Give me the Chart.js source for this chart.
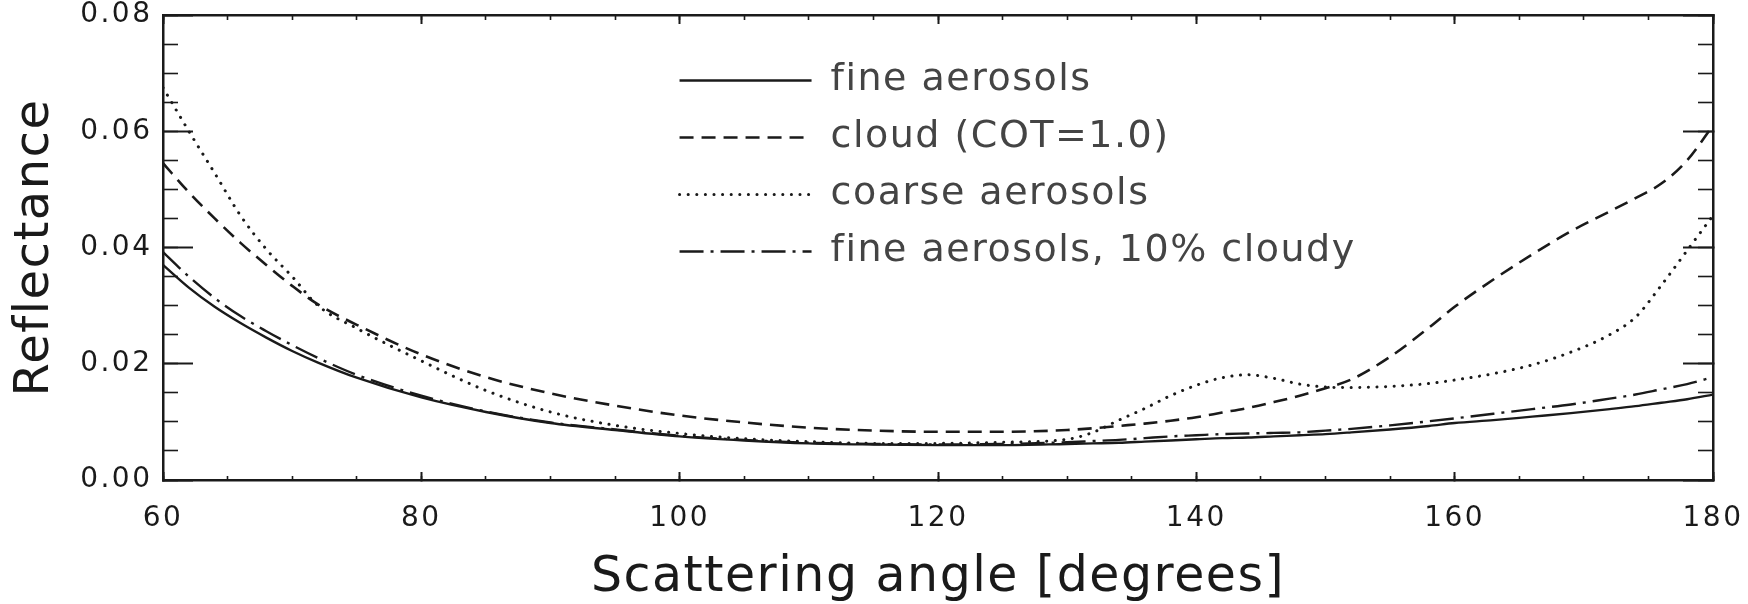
<!DOCTYPE html>
<html>
<head>
<meta charset="utf-8">
<script src="https://cdn.jsdelivr.net/npm/chart.js@4/dist/chart.umd.min.js"></script>
<style>
  html, body { margin: 0; padding: 0; background: #ffffff; }
  #wrap { width: 1748px; height: 604px; }
</style>
</head>
<body>
<div id="wrap"><canvas id="c" width="1748" height="604"></canvas></div>
<script>
// ---------------- data ----------------
const angles = [60, 62, 64, 66, 68, 70, 72, 75, 80, 85, 90, 95, 100, 105, 110, 115, 120, 125, 130,
  132, 134, 136, 138, 140, 142, 144, 146, 148, 150, 152, 155, 158, 160, 163, 166, 169, 172, 174, 176, 178, 180];

const fineAerosols = [0.0370, 0.0331, 0.0298, 0.0270, 0.0245, 0.0222, 0.0202, 0.0176, 0.0142, 0.0117, 0.0098,
  0.0086, 0.0075, 0.0068, 0.0063, 0.0061, 0.0060, 0.0060, 0.0062,
  0.0063, 0.0064, 0.0066, 0.0068, 0.0070, 0.0072, 0.0073, 0.0075, 0.0077, 0.0079, 0.0082, 0.0087,
  0.0093, 0.0098, 0.0103, 0.0109, 0.0115, 0.0122, 0.0127, 0.0133, 0.0139, 0.0147];

const cloudCOT1 = [0.0545, 0.0495, 0.0450, 0.0408, 0.0370, 0.0334, 0.0302, 0.0267, 0.0216, 0.0177, 0.0149,
  0.0128, 0.0111, 0.0099, 0.0090, 0.0085, 0.0083, 0.0083, 0.0086,
  0.0089, 0.0093, 0.0097, 0.0102, 0.0108, 0.0116, 0.0124, 0.0134, 0.0145, 0.0158, 0.0173, 0.0212,
  0.0262, 0.0298, 0.0345, 0.0388, 0.0428, 0.0462, 0.0485, 0.0510, 0.0550, 0.0610];

const coarseAerosols = [0.0675, 0.0600, 0.0528, 0.0455, 0.0397, 0.0350, 0.0300, 0.0261, 0.0205, 0.0154, 0.0117,
  0.0094, 0.0080, 0.0071, 0.0066, 0.0063, 0.0063, 0.0065, 0.0070,
  0.0082, 0.0103, 0.0123, 0.0145, 0.0163, 0.0176, 0.0181, 0.0175, 0.0165, 0.0160, 0.0159, 0.0161,
  0.0166, 0.0172, 0.0183, 0.0198, 0.0220, 0.0250, 0.0280, 0.0335, 0.0395, 0.0455];

const fineCloudy = [0.0392, 0.0350, 0.0313, 0.0282, 0.0256, 0.0232, 0.0210, 0.0181, 0.0145, 0.0118, 0.0099,
  0.0087, 0.0076, 0.0069, 0.0064, 0.0062, 0.0061, 0.0062, 0.0065,
  0.0067, 0.0069, 0.0072, 0.0075, 0.0077, 0.0079, 0.0080, 0.0081, 0.0082, 0.0085, 0.0088, 0.0094,
  0.0101, 0.0106, 0.0114, 0.0122, 0.0130, 0.0140, 0.0147, 0.0156, 0.0165, 0.0177];

const seriesNames = ['fine aerosols', 'cloud (COT=1.0)', 'coarse aerosols', 'fine aerosols, 10% cloudy'];
const xTickLabels = ['60', '80', '100', '120', '140', '160', '180'];
const yTickLabels = ['0.00', '0.02', '0.04', '0.06', '0.08'];
const xTitle = 'Scattering angle [degrees]';
const yTitle = 'Reflectance';

// ---------------- chart ----------------
const INK = '#1a1a1a';
Chart.defaults.font.family = 'DejaVu Sans';

function pts(vals) { return angles.map((a, i) => ({ x: a, y: vals[i] })); }
function ds(label, vals, dash, cap, width) {
  return {
    label: label, data: pts(vals), borderColor: INK, backgroundColor: INK,
    borderWidth: width, borderDash: dash, borderCapStyle: cap, pointRadius: 0, pointStyle: 'line',
    cubicInterpolationMode: 'monotone', fill: false
  };
}

// place the legend block inside the plot frame
const legendPlacer = {
  id: 'legendPlacer',
  afterLayout(chart) {
    const L = chart.legend, a = chart.chartArea;
    if (!L) return;
    const left = a.left + a.width * 0.321;
    const top = a.top + a.height * 0.059;
    L.left = left; L.top = top; L.right = a.right; L.bottom = a.bottom;
    L.width = L.right - L.left; L.height = L.bottom - L.top;
  }
};

// letter spacing: light for titles/legend, wider for tick labels (drawn at z=1)
const textSpacing = {
  id: 'textSpacing',
  beforeDraw(chart) { chart.ctx.letterSpacing = '1.5px'; },
  beforeDatasetsDraw(chart) { chart.ctx.letterSpacing = '0px'; },
  afterDatasetsDraw(chart) { chart.ctx.letterSpacing = '2.5px'; },
  afterDraw(chart) { chart.ctx.letterSpacing = '0px'; }
};

function fixSize(s, prop, val) {
  s[prop] = val;
  s.paddingTop = 0; s.paddingBottom = 0; s.paddingLeft = 0; s.paddingRight = 0;
}

function minorAxis(axisPos, min, max, step, len, sizeProp) {
  return {
    type: 'linear', position: axisPos, min: min, max: max, weight: 0,
    ticks: { display: false, stepSize: step },
    grid: { drawOnChartArea: false, drawTicks: true, tickLength: -len, tickWidth: 1.6, tickColor: INK },
    border: { display: false },
    afterFit: s => fixSize(s, sizeProp, 0)
  };
}
function framedAxis(axisPos, min, max, step, len, sizeProp) {
  return {
    type: 'linear', position: axisPos, min: min, max: max, weight: 0,
    ticks: { display: false, stepSize: step },
    grid: { drawOnChartArea: false, drawTicks: true, tickLength: -len, tickWidth: 2, tickColor: INK },
    border: { display: true, color: INK, width: 2.5 },
    afterFit: s => fixSize(s, sizeProp, 0)
  };
}

new Chart(document.getElementById('c'), {
  type: 'line',
  data: {
    datasets: [
      ds(seriesNames[0], fineAerosols, [], 'butt', 2.4),
      ds(seriesNames[1], cloudCOT1, [14, 8], 'butt', 2.6),
      ds(seriesNames[2], coarseAerosols, [0.1, 8.5], 'round', 3),
      ds(seriesNames[3], fineCloudy, [24, 7, 3, 7], 'butt', 2.4)
    ]
  },
  options: {
    responsive: false,
    animation: false,
    devicePixelRatio: 1,
    layout: { padding: { left: 0, right: 35, top: 15, bottom: 0 } },
    plugins: {
      tooltip: { enabled: false },
      legend: {
        display: true,
        position: 'chartArea',
        align: 'start',
        labels: {
          usePointStyle: true, pointStyle: 'line', pointStyleWidth: 132,
          color: '#444444', padding: 19,
          font: { family: 'DejaVu Sans', size: 38 },
          generateLabels: (chart) => chart.data.datasets.map((d, i) => ({
            text: d.label, datasetIndex: i, hidden: false,
            lineWidth: d.borderWidth, strokeStyle: d.borderColor, fillStyle: 'rgba(0,0,0,0)',
            lineDash: d.borderDash, lineCap: d.borderCapStyle, lineJoin: 'miter',
            pointStyle: 'line', rotation: 0, fontColor: '#444444'
          }))
        }
      }
    },
    scales: {
      x: {
        type: 'linear', position: 'bottom', min: 60, max: 180, weight: 1,
        ticks: {
          stepSize: 20, autoSkip: false, maxRotation: 0, padding: 30, color: INK, z: 1,
          font: { family: 'DejaVu Sans', size: 28 },
          callback: (v, i) => xTickLabels[i]
        },
        grid: { drawOnChartArea: false, drawTicks: true, tickLength: -8, tickWidth: 2, tickColor: INK },
        border: { display: true, color: INK, width: 2.5 },
        title: {
          display: true, text: xTitle, color: INK,
          font: { family: 'DejaVu Sans', size: 49, lineHeight: 1 },
          padding: { top: 0, bottom: 1 }
        },
        afterFit: s => fixSize(s, 'height', 124)
      },
      xMinor: minorAxis('bottom', 60, 180, 5, 4, 'height'),
      xTop: framedAxis('top', 60, 180, 20, 9, 'height'),
      xTopMinor: minorAxis('top', 60, 180, 5, 5, 'height'),
      y: {
        type: 'linear', position: 'left', min: 0, max: 0.08, weight: 1,
        ticks: {
          stepSize: 0.02, padding: 40.5, color: INK, z: 1,
          font: { family: 'DejaVu Sans', size: 28 },
          callback: (v, i) => yTickLabels[i]
        },
        grid: { drawOnChartArea: false, drawTicks: true, tickLength: -30, tickWidth: 2, tickColor: INK },
        border: { display: true, color: INK, width: 2.5 },
        title: {
          display: true, text: yTitle, color: INK,
          font: { family: 'DejaVu Sans', size: 48, lineHeight: 1 },
          padding: { top: 12, bottom: 0 }
        },
        afterFit: s => fixSize(s, 'width', 163)
      },
      yMinor: minorAxis('left', 0, 0.08, 0.005, 15, 'width'),
      yRight: framedAxis('right', 0, 0.08, 0.02, 30, 'width'),
      yRightMinor: minorAxis('right', 0, 0.08, 0.005, 15, 'width')
    }
  },
  plugins: [legendPlacer, textSpacing]
});
</script>
</body>
</html>
